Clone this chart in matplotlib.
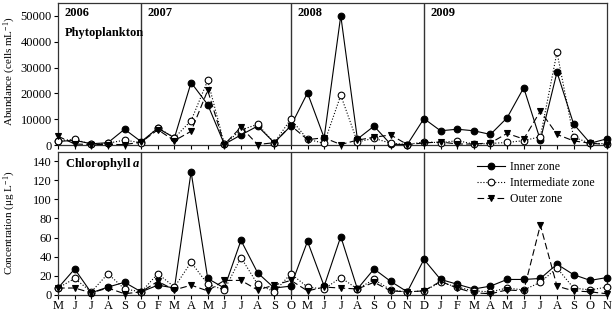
import numpy as np
import matplotlib
matplotlib.use("Agg")
import matplotlib.pyplot as plt

# ======================
# DATA
# ======================

months = ["M", "J", "J", "A", "S",
          "O", "F", "M", "A", "M", "J", "J", "A", "S",
          "O", "M", "J", "J", "A", "S", "O", "N",
          "D", "J", "F", "M", "A", "M", "J", "J", "A", "S", "O", "N"]

years = ["2006", "2007", "2008", "2009"]
year_start = [0, 5, 14, 22]   # index of first sample in each year

# Phytoplankton abundance (cells mL-1)
phyto_inner = [1500, 1900, 600, 1000, 6200, 1400, 6600, 2900, 24200, 15700, 400, 4000,
               7400, 1000, 7500, 20200, 2900, 50000, 2400, 7400, 400, 300, 10300, 5600,
               6200, 5600, 4200, 10600, 22200, 2000, 28200, 8200, 800, 2500]
phyto_inter = [1800, 2300, 400, 800, 2000, 1000, 6800, 2900, 9500, 25000, 400, 5900,
               8100, 1000, 10100, 2300, 800, 19300, 1300, 2700, 800, 300, 1300, 1000,
               1800, 500, 700, 1100, 1800, 3300, 35900, 3100, 800, 600]
phyto_outer = [3500, 500, 300, 300, 300, 1200, 6000, 1800, 5400, 21200, 300, 7000,
               300, 1000, 7600, 2200, 2900, 300, 2000, 3100, 4000, 300, 900, 1300,
               500, 500, 900, 4600, 2400, 13200, 4200, 1700, 800, 300]

# Chlorophyll a (ug L-1)
chl_inner = [7, 27, 2, 8, 13, 3, 10, 7, 129, 17, 7, 57, 23, 7, 9, 56, 9, 61, 6, 27,
             14, 3, 37, 16, 11, 6, 9, 16, 16, 17, 32, 21, 15, 18]
chl_inter = [7, 17, 3, 22, 6, 3, 22, 8, 34, 11, 5, 39, 11, 3, 22, 8, 6, 18, 6, 16,
             5, 3, 4, 13, 8, 4, 3, 7, 5, 13, 28, 7, 5, 8]
chl_outer = [7, 7, 2, 7, 1, 3, 14, 5, 10, 4, 15, 15, 5, 10, 15, 4, 8, 7, 6, 13,
             4, 3, 4, 14, 7, 2, 1, 5, 4, 73, 9, 4, 3, 1]

# ======================
# STYLE
# ======================

plt.rcParams["font.family"] = ["Liberation Serif", "DejaVu Serif"]
plt.rcParams["mathtext.fontset"] = "custom"
plt.rcParams["mathtext.rm"] = "Liberation Serif"
plt.rcParams["mathtext.it"] = "Liberation Serif:italic"
plt.rcParams["mathtext.bfit"] = "Liberation Serif:italic:bold"
plt.rcParams["font.size"] = 9

x = np.arange(len(months))

fig = plt.figure(figsize=(6.16, 3.11), dpi=100)
ax1 = fig.add_axes([0.0942, 0.5328, 0.891, 0.4585])
ax2 = fig.add_axes([0.0942, 0.0524, 0.891, 0.4598])

series_style = [
    dict(color="black", ls="-", marker="o", mfc="black", label="Inner zone"),
    dict(color="black", ls=":", marker="o", mfc="white", label="Intermediate zone"),
    dict(color="black", ls=(0, (6, 3)), marker="v", mfc="black", label="Outer zone"),
]


def draw_panel(ax, data, ymax, yticks):
    for vals, st in zip(data, series_style):
        ax.plot(x, vals, lw=0.8, ms=4.8, mew=0.8, clip_on=False, zorder=3, **st)
    for xs in year_start[1:]:
        ax.axvline(xs, color="#333333", lw=1.0, zorder=1)
    ax.set_xlim(0, len(months) - 1)
    ax.set_ylim(0, ymax)
    ax.set_yticks(yticks)
    ax.set_xticks(x)
    ax.tick_params(direction="out", length=3, width=0.8, pad=1.5, labelsize=9)
    ax.tick_params(axis="x", pad=1)
    for s in ax.spines.values():
        s.set_linewidth(0.9)
        s.set_color("#333333")


draw_panel(ax1, [phyto_inner, phyto_inter, phyto_outer], 55000,
           [0, 10000, 20000, 30000, 40000, 50000])
ax1.set_xticklabels([])
for yr, xs in zip(years, year_start):
    ax1.text(xs + 0.4, 0.93, yr, transform=ax1.get_xaxis_transform(),
             fontweight="bold", fontsize=9, va="center", ha="left")
ax1.text(0.4, 0.785, "Phytoplankton", transform=ax1.get_xaxis_transform(),
         fontweight="bold", fontsize=9, va="center", ha="left")
ax1.set_ylabel("Abundance (cells mL$^{-1}$)", fontsize=8)
ax1.yaxis.set_label_coords(-0.073, 0.52)

draw_panel(ax2, [chl_inner, chl_inter, chl_outer], 150,
           [0, 20, 40, 60, 80, 100, 120, 140])
ax2.set_xticklabels(months)
ax2.text(0.4, 0.915, r"Chlorophyll $\mathbfit{a}$", transform=ax2.get_xaxis_transform(),
         fontweight="bold", fontsize=9, va="center", ha="left")
ax2.set_ylabel("Concentration (\u03bcg L$^{-1}$)", fontsize=8)
ax2.yaxis.set_label_coords(-0.073, 0.5)

ax2.legend(loc="upper right", bbox_to_anchor=(0.995, 1.0), frameon=False,
           fontsize=8.5, handlelength=2.4, handletextpad=0.4, labelspacing=0.35,
           borderaxespad=0.4)

fig.savefig("out.png", dpi=100)
